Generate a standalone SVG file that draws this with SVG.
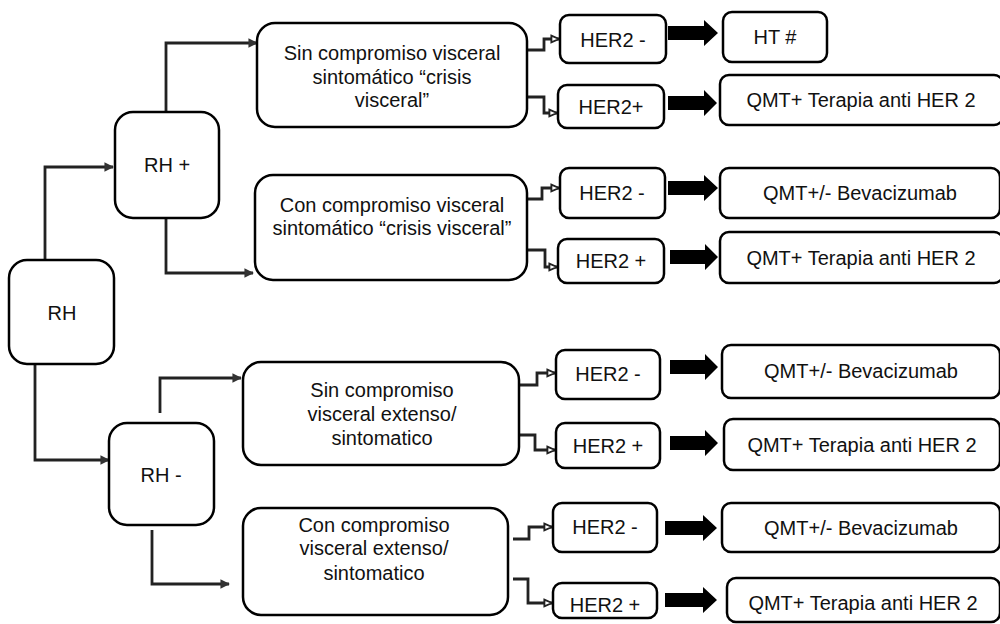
<svg xmlns="http://www.w3.org/2000/svg" width="1000" height="624" viewBox="0 0 1000 624">
<defs>
<style>
.b{fill:#fff;stroke:#000;stroke-width:2.5}
.t{font-family:"Liberation Sans",Arial,sans-serif;font-size:20px;fill:#111;text-anchor:middle}
.c{fill:none;stroke:#222;stroke-width:2.8}
.ba{fill:#000}
</style>
<marker id="af" viewBox="0 0 10 10" refX="9" refY="5" markerWidth="3.4" markerHeight="3.4" orient="auto" markerUnits="strokeWidth">
<path d="M0,0 L10,5 L0,10 z" fill="#333"/>
</marker>
<marker id="ah" viewBox="0 0 10 10" refX="9" refY="5" markerWidth="3.4" markerHeight="3.4" orient="auto" markerUnits="strokeWidth">
<path d="M1,1.5 L9,5 L1,8.5 z" fill="#fff" stroke="#222" stroke-width="2"/>
</marker>
</defs>
<rect width="1000" height="624" fill="#fff"/>

<g id="connectors">
<path class="c" d="M45,259 V167 H113" marker-end="url(#af)"/>
<path class="c" d="M35,364 V460 H109" marker-end="url(#af)"/>
<path class="c" d="M166,112 V43 H257" marker-end="url(#af)"/>
<path class="c" d="M166,218 V273 H253" marker-end="url(#af)"/>
<path class="c" d="M160,413 V378 H241" marker-end="url(#af)"/>
<path class="c" d="M152,530 V584 H229" marker-end="url(#af)"/>

<path class="c" d="M528,50 H544 V39 H559" marker-end="url(#ah)"/>
<path class="c" d="M528,97 H544 V113 H557" marker-end="url(#ah)"/>
<path class="c" d="M528,199 H542 V188 H559" marker-end="url(#ah)"/>
<path class="c" d="M528,250 H545 V267 H557" marker-end="url(#ah)"/>
<path class="c" d="M518,385 H537 V373 H555" marker-end="url(#ah)"/>
<path class="c" d="M518,435 H535 V450 H555" marker-end="url(#ah)"/>
<path class="c" d="M513,539 H529 V527 H552" marker-end="url(#ah)"/>
<path class="c" d="M513,579 H528 V603 H552" marker-end="url(#ah)"/>

<path class="ba" d="M668,26 H704 V20 L718,33 L704,46 V40 H668 z"/>
<path class="ba" d="M668,96 H704 V90 L717,103 L704,116 V110 H668 z"/>
<path class="ba" d="M668,181 H704 V175 L718,188 L704,201 V195 H668 z"/>
<path class="ba" d="M670,250 H705 V244 L718,257 L705,270 V264 H670 z"/>
<path class="ba" d="M670,360 H705 V354 L718,367 L705,380 V374 H670 z"/>
<path class="ba" d="M670,436 H705 V430 L718,443 L705,456 V450 H670 z"/>
<path class="ba" d="M665,521 H703 V515 L717,528 L703,541 V535 H665 z"/>
<path class="ba" d="M665,593 H703 V587 L717,600 L703,613 V607 H665 z"/>
</g>

<g id="rh"><rect class="b" x="9" y="260" width="105" height="104" rx="18"/><text class="t" x="62" y="320">RH</text></g>
<g id="rhpos"><rect class="b" x="115" y="112" width="104" height="106" rx="18"/><text class="t" x="167" y="172">RH +</text></g>
<g id="rhneg"><rect class="b" x="109" y="423" width="105" height="102" rx="18"/><text class="t" x="161" y="482">RH -</text></g>

<g id="sin1"><rect class="b" x="257" y="23" width="270" height="104" rx="18"/>
<text class="t" x="392" y="60">Sin compromiso visceral</text><text class="t" x="392" y="84">sintomático “crisis</text><text class="t" x="392" y="107">visceral”</text></g>
<g id="con1"><rect class="b" x="255" y="175" width="272" height="105" rx="18"/>
<text class="t" x="392" y="212">Con compromiso visceral</text><text class="t" x="392" y="235">sintomático “crisis visceral”</text></g>
<g id="sin2"><rect class="b" x="243" y="362" width="276" height="103" rx="18"/>
<text class="t" x="382" y="397">Sin compromiso</text><text class="t" x="382" y="421">visceral extenso/</text><text class="t" x="382" y="445">sintomatico</text></g>
<g id="con2"><rect class="b" x="243" y="508" width="265" height="107" rx="18"/>
<text class="t" x="374" y="532">Con compromiso</text><text class="t" x="374" y="555">visceral extenso/</text><text class="t" x="374" y="580">sintomatico</text></g>

<g id="h1n"><rect class="b" x="560" y="15" width="106" height="48" rx="9"/><text class="t" x="613" y="47">HER2 -</text></g>
<g id="h1p"><rect class="b" x="558" y="85" width="106" height="43" rx="9"/><text class="t" x="611" y="114">HER2+</text></g>
<g id="h2n"><rect class="b" x="560" y="168" width="105" height="50" rx="9"/><text class="t" x="612" y="200">HER2 -</text></g>
<g id="h2p"><rect class="b" x="558" y="239" width="106" height="44" rx="9"/><text class="t" x="611" y="268">HER2 +</text></g>
<g id="h3n"><rect class="b" x="556" y="350" width="104" height="49" rx="9"/><text class="t" x="608" y="381">HER2 -</text></g>
<g id="h3p"><rect class="b" x="556" y="423" width="104" height="45" rx="9"/><text class="t" x="608" y="453">HER2 +</text></g>
<g id="h4n"><rect class="b" x="553" y="503" width="104" height="49" rx="9"/><text class="t" x="605" y="534">HER2 -</text></g>
<g id="h4p"><rect class="b" x="553" y="583" width="104" height="35" rx="9"/><text class="t" x="605" y="612">HER2 +</text></g>

<g id="r1a"><rect class="b" x="723" y="12" width="104" height="50" rx="9"/><text class="t" x="775" y="44">HT #</text></g>
<g id="r1b"><rect class="b" x="720" y="75" width="283" height="50" rx="9"/><text class="t" x="861" y="107">QMT+ Terapia anti HER 2</text></g>
<g id="r2a"><rect class="b" x="720" y="168" width="280" height="50" rx="9"/><text class="t" x="860" y="200">QMT+/- Bevacizumab</text></g>
<g id="r2b"><rect class="b" x="720" y="232" width="283" height="51" rx="9"/><text class="t" x="861" y="265">QMT+ Terapia anti HER 2</text></g>
<g id="r3a"><rect class="b" x="722" y="345" width="278" height="53" rx="9"/><text class="t" x="861" y="378">QMT+/- Bevacizumab</text></g>
<g id="r3b"><rect class="b" x="724" y="419" width="276" height="51" rx="9"/><text class="t" x="862" y="452">QMT+ Terapia anti HER 2</text></g>
<g id="r4a"><rect class="b" x="722" y="503" width="278" height="49" rx="9"/><text class="t" x="861" y="535">QMT+/- Bevacizumab</text></g>
<g id="r4b"><rect class="b" x="727" y="578" width="273" height="44" rx="9"/><text class="t" x="863" y="610">QMT+ Terapia anti HER 2</text></g>
</svg>
